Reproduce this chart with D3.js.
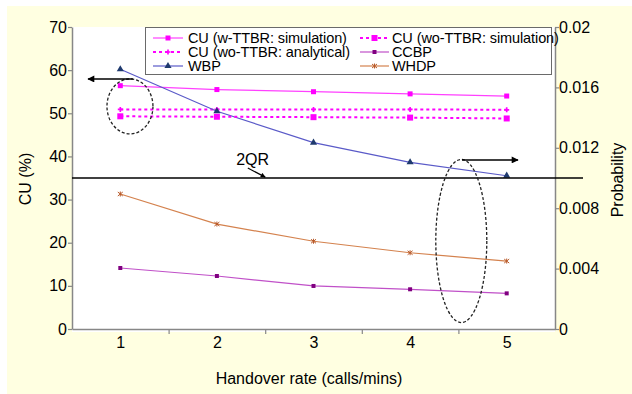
<!DOCTYPE html>
<html>
<head>
<meta charset="utf-8">
<script src="https://cdn.jsdelivr.net/npm/d3@7"></script>
<style>
  body { margin: 0; background: #fff; }
  svg { display: block; font-family: "Liberation Sans", Arial, sans-serif; }
</style>
</head>
<body>
<svg id="chart" width="632" height="394"></svg>
<script>
// handover rate categories
const rates = [1, 2, 3, 4, 5];
// CU (%) series, left axis
const cuWithSim = [56.4, 55.5, 55.0, 54.5, 54.0];
const cuWoAnalytical = [50.9, 50.9, 50.9, 50.9, 50.8];
const cuWoSim = [49.3, 49.2, 49.1, 49.0, 48.8];
// probability series, right axis
const wbp = [0.0172, 0.01442, 0.01234, 0.01104, 0.01015];
const ccbp = [0.00404, 0.00351, 0.00285, 0.00263, 0.00236];
const whdp = [0.00894, 0.00695, 0.00581, 0.00505, 0.0045];
const cuTicks = [0, 10, 20, 30, 40, 50, 60, 70];
const probTicks = [0, 0.004, 0.008, 0.012, 0.016, 0.02];
const qrLevel = 35;

const svg = d3.select("#chart");
const mLeft = 72, mRight = 555, mTop = 27, mBottom = 329;

const x = d3.scaleLinear().domain([0.5, 5.5]).range([mLeft, mRight]);
const yL = d3.scaleLinear().domain([0, 70]).range([mBottom, mTop]);
const yR = d3.scaleLinear().domain([0, 0.02]).range([mBottom, mTop]);

// backgrounds
svg.append("rect").attr("x", 7).attr("y", 6).attr("width", 625).attr("height", 388).attr("fill", "#ffffe1");
svg.append("rect").attr("x", mLeft).attr("y", mTop).attr("width", mRight - mLeft).attr("height", mBottom - mTop + 3).attr("fill", "#fff");

const axisColor = "#878787";
const fs = "16px";

function styleAxis(g) {
  g.select(".domain").attr("stroke", axisColor).attr("stroke-width", 1.5);
  g.selectAll(".tick line").attr("stroke", axisColor).attr("stroke-width", 1.2);
  g.selectAll("text").attr("fill", "#000").style("font-size", fs);
}

// left axis
svg.append("g").attr("transform", `translate(${mLeft},0)`)
  .call(d3.axisLeft(yL).tickValues(cuTicks).tickSize(4).tickPadding(1).tickSizeOuter(0))
  .call(styleAxis);

// right axis
svg.append("g").attr("transform", `translate(${mRight},0)`)
  .call(d3.axisRight(yR).tickValues(probTicks).tickSize(4).tickPadding(0).tickSizeOuter(0)
    .tickFormat(d => d === 0 ? "0" : String(+d.toFixed(3))))
  .call(styleAxis);

// bottom axis: tick marks between categories
svg.append("g").attr("transform", `translate(0,${mBottom})`)
  .call(d3.axisBottom(x).tickValues([1.5, 2.5, 3.5, 4.5]).tickSize(5).tickFormat("").tickSizeOuter(0))
  .call(styleAxis);
// category labels
svg.append("g").attr("transform", `translate(0,${mBottom})`)
  .call(d3.axisBottom(x).tickValues(rates).tickSize(0).tickPadding(8).tickFormat(d3.format("d")))
  .call(g => g.select(".domain").remove())
  .call(styleAxis);

// axis titles
svg.append("text").attr("x", 309).attr("y", 384).attr("text-anchor", "middle")
  .style("font-size", fs).text("Handover rate (calls/mins)");
svg.append("text").attr("transform", "translate(31,179) rotate(-90)").attr("text-anchor", "middle")
  .style("font-size", fs).text("CU (%)");
svg.append("text").attr("transform", "translate(623,180) rotate(-90)").attr("text-anchor", "middle")
  .style("font-size", fs).text("Probability");

// marker helpers
function marker(g, type, cx, cy, color) {
  if (type === "square") {
    g.append("rect").attr("x", cx - 2.5).attr("y", cy - 2.5).attr("width", 5).attr("height", 5).attr("fill", color);
  } else if (type === "bigsquare") {
    g.append("rect").attr("x", cx - 3).attr("y", cy - 3).attr("width", 6).attr("height", 6).attr("fill", color);
  } else if (type === "star") {
    g.append("path").attr("d", d3.symbol(d3.symbolCross, 14)()).attr("transform", `translate(${cx},${cy})`).attr("fill", color);
  } else if (type === "triangle") {
    g.append("path").attr("d", d3.symbol(d3.symbolTriangle, 22)()).attr("transform", `translate(${cx},${cy})`).attr("fill", color);
  } else if (type === "dot") {
    g.append("rect").attr("x", cx - 2).attr("y", cy - 2).attr("width", 4).attr("height", 4).attr("fill", color);
  } else if (type === "xcross") {
    g.append("path").attr("d", `M${cx - 2.5},${cy - 2}L${cx + 2.5},${cy + 2}M${cx - 2.5},${cy + 2}L${cx + 2.5},${cy - 2}M${cx},${cy - 2.5}V${cy + 2.5}`)
      .attr("stroke", color).attr("stroke-width", 1);
  }
}

const series = [
  { name: "CU (w-TTBR: simulation)", values: cuWithSim, y: yL, line: "#ff40ff", mk: "#ff00ff", type: "square", dash: null, width: 1.2 },
  { name: "CU (wo-TTBR: analytical)", values: cuWoAnalytical, y: yL, line: "#ff00ff", mk: "#ff00ff", type: "star", dash: "3,3", width: 2 },
  { name: "WBP", values: wbp, y: yR, line: "#5a5ac8", mk: "#1f3a6e", type: "triangle", dash: null, width: 1.2 },
  { name: "CU (wo-TTBR: simulation)", values: cuWoSim, y: yL, line: "#ff00ff", mk: "#ff00ff", type: "bigsquare", dash: "3,3", width: 2 },
  { name: "CCBP", values: ccbp, y: yR, line: "#c050c8", mk: "#800080", type: "dot", dash: null, width: 1.2 },
  { name: "WHDP", values: whdp, y: yR, line: "#d4824e", mk: "#b85a2a", type: "xcross", dash: null, width: 1.2 }
];

const plot = svg.append("g");
series.forEach(s => {
  const line = d3.line().x((d, i) => x(rates[i])).y(d => s.y(d));
  plot.append("path").datum(s.values).attr("d", line).attr("fill", "none")
    .attr("stroke", s.line).attr("stroke-width", s.width).attr("stroke-dasharray", s.dash);
  s.values.forEach((v, i) => marker(plot, s.type, x(rates[i]), s.y(v), s.mk));
});

// 2QR threshold line
svg.append("line").attr("x1", x(0.5)).attr("x2", x(5.79)).attr("y1", yL(qrLevel)).attr("y2", yL(qrLevel))
  .attr("stroke", "#000").attr("stroke-width", 1.5);
svg.append("text").attr("x", x(2.37)).attr("y", yL(38.0)).attr("text-anchor", "middle")
  .style("font-size", fs).text("2QR");

// arrowheads
const defs = svg.append("defs");
defs.append("marker").attr("id", "arrow").attr("viewBox", "0 0 10 10").attr("refX", 9).attr("refY", 5)
  .attr("markerWidth", 9).attr("markerHeight", 7).attr("markerUnits", "userSpaceOnUse").attr("orient", "auto")
  .append("path").attr("d", "M0,0L10,5L0,10Z").attr("fill", "#000");
defs.append("marker").attr("id", "arrowSmall").attr("viewBox", "0 0 10 10").attr("refX", 9).attr("refY", 5)
  .attr("markerWidth", 6).attr("markerHeight", 5).attr("markerUnits", "userSpaceOnUse").attr("orient", "auto")
  .append("path").attr("d", "M0,0L10,5L0,10Z").attr("fill", "#000");

svg.append("line").attr("x1", x(2.32)).attr("y1", yL(37.3)).attr("x2", x(2.5)).attr("y2", yL(35.2))
  .attr("stroke", "#000").attr("stroke-width", 1.2).attr("marker-end", "url(#arrowSmall)");

// annotation ellipses and arrows
const xu = x(1.5) - x(0.5), yu = yL(0) - yL(1);
svg.append("ellipse").attr("cx", x(1.10)).attr("cy", yL(51.6)).attr("rx", 0.238 * xu).attr("ry", 6.37 * yu)
  .attr("fill", "none").attr("stroke", "#222").attr("stroke-width", 1.3).attr("stroke-dasharray", "3,2");
svg.append("line").attr("x1", x(1.13)).attr("x2", x(0.666)).attr("y1", yL(57.95)).attr("y2", yL(57.95))
  .attr("stroke", "#000").attr("stroke-width", 1.5).attr("marker-end", "url(#arrow)");

svg.append("ellipse").attr("cx", x(4.53)).attr("cy", yL(20.4)).attr("rx", 0.264 * xu).attr("ry", 18.9 * yu)
  .attr("fill", "none").attr("stroke", "#222").attr("stroke-width", 1.3).attr("stroke-dasharray", "3,2");
svg.append("line").attr("x1", x(4.537)).attr("x2", x(5.117)).attr("y1", yL(39.2)).attr("y2", yL(39.2))
  .attr("stroke", "#000").attr("stroke-width", 1.5).attr("marker-end", "url(#arrow)");

// legend
const lg = svg.append("g");
lg.append("rect").attr("x", 145.5).attr("y", 27.5).attr("width", 406).attr("height", 47)
  .attr("fill", "#fff").attr("stroke", "#6a6a6a").attr("stroke-width", 1);
const cols = [{ x0: 153, x1: 183, tx: 188 }, { x0: 360, x1: 389, tx: 392 }];
series.forEach((s, i) => {
  const c = cols[Math.floor(i / 3)];
  const cy = 38 + (i % 3) * 14;
  lg.append("line").attr("x1", c.x0).attr("x2", c.x1).attr("y1", cy).attr("y2", cy)
    .attr("stroke", s.line).attr("stroke-width", s.width).attr("stroke-dasharray", s.dash);
  marker(lg, s.type, (c.x0 + c.x1) / 2, cy, s.mk);
  lg.append("text").attr("x", c.tx).attr("y", cy + 5).style("font-size", "14.5px")
    .style("letter-spacing", "-0.1px").text(s.name);
});
</script>
</body>
</html>
